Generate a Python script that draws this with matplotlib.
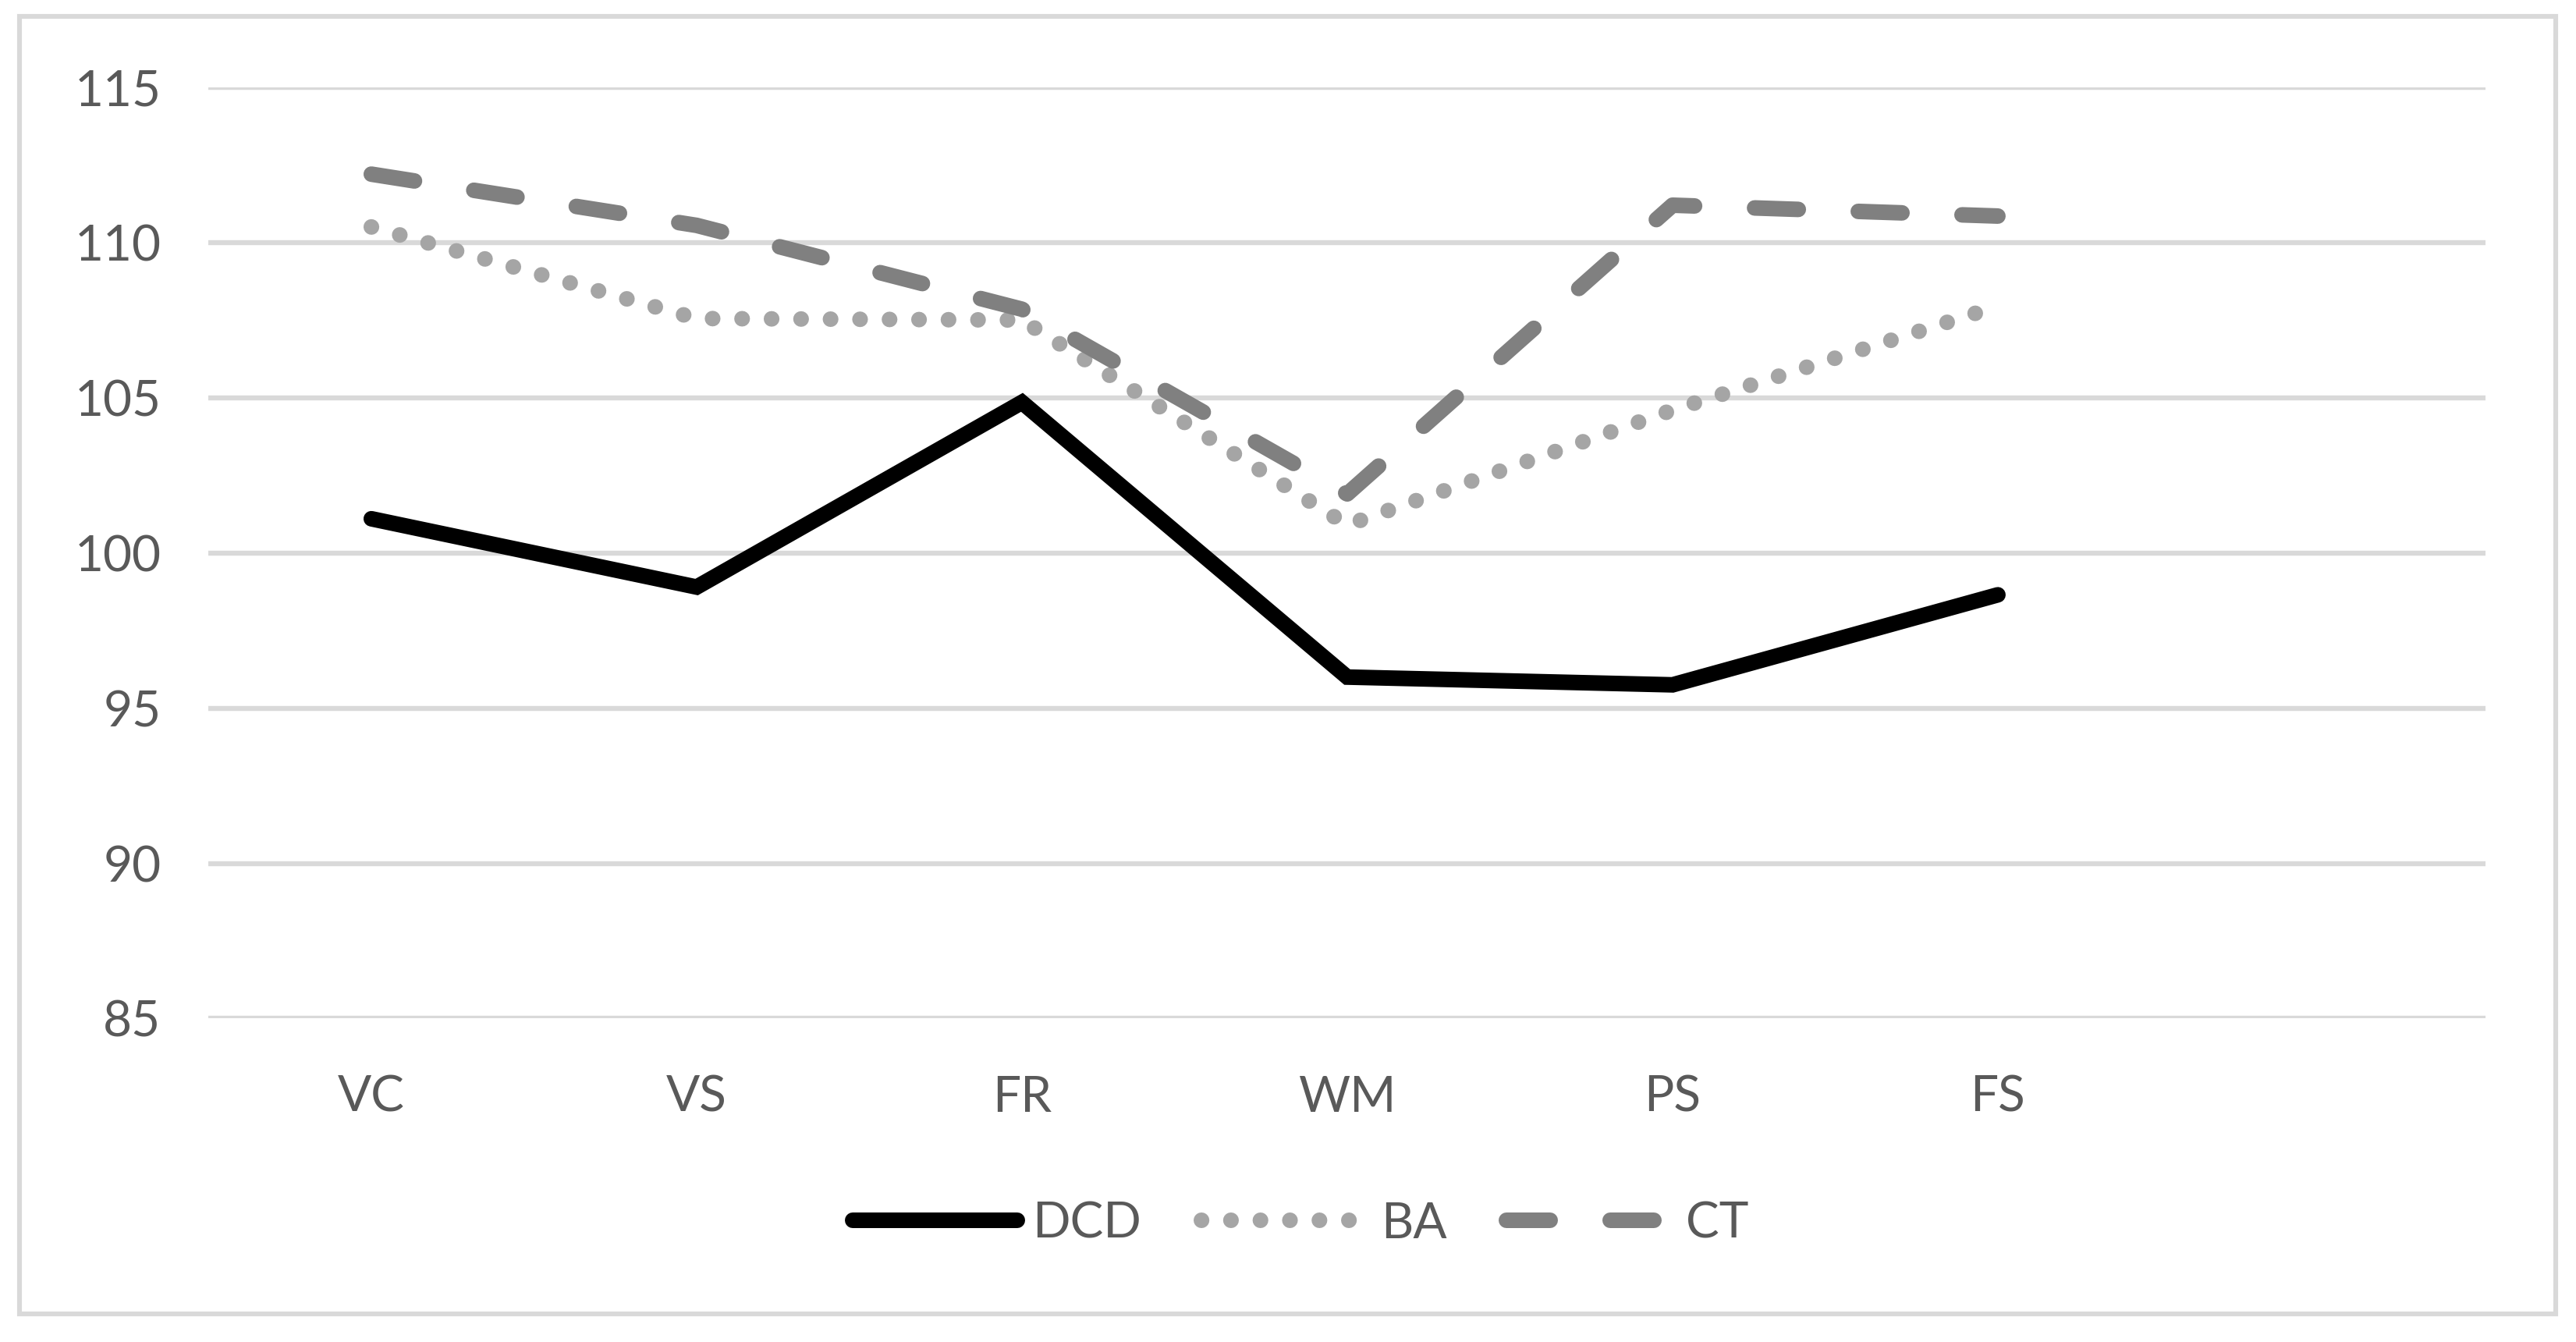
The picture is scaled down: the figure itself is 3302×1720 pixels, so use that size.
import matplotlib
matplotlib.use("Agg")
import matplotlib.pyplot as plt
from matplotlib.patches import Rectangle

plt.rcParams['font.family'] = ['Lato', 'DejaVu Sans']

categories = ['VC', 'VS', 'FR', 'WM', 'PS', 'FS', '']
dcd = [101.1, 98.9, 104.85, 96.0, 95.75, 98.65]
ba = [110.5, 107.55, 107.5, 100.9, 104.6, 107.95]
ct = [112.2, 110.55, 107.85, 101.9, 111.2, 110.85]
y_ticks = [85, 90, 95, 100, 105, 110, 115]

fig = plt.figure(figsize=(16.51, 8.60), dpi=200)
fig.patch.set_facecolor('white')
fig.add_artist(Rectangle((0.0077, 0.021), 0.9843, 0.967, transform=fig.transFigure,
                         fill=False, edgecolor='#D9D9D9', linewidth=2.2))

ax = fig.add_axes([0.081, 0.241, 0.884, 0.694])
lw = 7.2
x = list(range(len(dcd)))
ax.plot(x, dcd, color='black', lw=lw, solid_capstyle='round', solid_joinstyle='miter', label='DCD', zorder=3)
ax.plot(x, ba, color='#A5A5A5', lw=lw, linestyle=(0, (0.01, 1.88)), dash_capstyle='round', label='BA', zorder=3)
ax.plot(x, ct, color='#808080', lw=lw, linestyle=(0, (2.8, 3.85)), dash_capstyle='round', label='CT', zorder=3)

ax.set_xlim(-0.5, len(categories) - 0.5)
ax.set_ylim(85, 115)
ax.set_yticks(y_ticks)
ax.set_xticks(range(len(categories)))
ax.set_xticklabels(categories)
ax.grid(axis='y', color='#D9D9D9', linewidth=2.3)
ax.set_axisbelow(True)
for s in ax.spines.values():
    s.set_visible(False)
ax.tick_params(axis='both', length=0, labelsize=23, labelcolor='#595959')
ax.tick_params(axis='y', pad=22)
ax.tick_params(axis='x', pad=26)

leg = fig.legend(loc='center', bbox_to_anchor=(0.505, 0.088), ncol=3, frameon=False,
                 fontsize=23, handlelength=3.3, handletextpad=0.3, columnspacing=1.2)
for t in leg.get_texts():
    t.set_color('#595959')

fig.savefig('out.png', dpi=200, facecolor='white')
